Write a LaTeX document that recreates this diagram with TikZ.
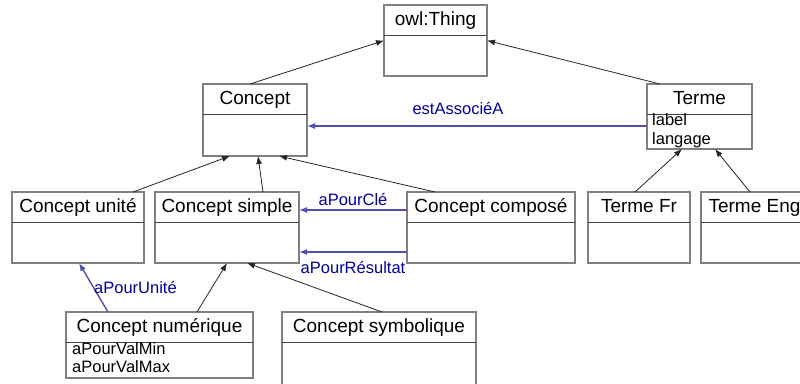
\documentclass[tikz,border=0pt]{standalone}
\usepackage{fontspec}
\setmainfont{Liberation Sans}
\usetikzlibrary{arrows.meta}
\definecolor{boxgray}{RGB}{128,128,128}
\definecolor{relblue}{RGB}{80,80,176}
\definecolor{labelblue}{RGB}{0,0,160}

\begin{document}
\begin{tikzpicture}[x=1pt,y=-1pt,
    classbox/.style={draw=boxgray,line width=1.3pt,anchor=north west,inner sep=0pt,outer sep=0pt},
    divider/.style={draw=black!75,line width=0.8pt},
    classname/.style={font=\fontsize{19}{22}\selectfont,inner sep=0pt,anchor=base},
    attr/.style={font=\fontsize{16.5}{19}\selectfont,inner sep=0pt,anchor=base west},
    isa/.style={draw=black!85,line width=0.8pt,-{Latex[length=8pt,width=6pt]}},
    rel/.style={draw=relblue,line width=1.4pt,-{Latex[length=8pt,width=6pt]}},
    rellabel/.style={font=\fontsize{16.5}{19}\selectfont,text=labelblue,inner sep=0pt}]

    % Cadre de l'image
    \clip (0,0) rectangle (800,383);
    \fill[white] (0,0) rectangle (800,383);

    % Classes : nom/x/y/largeur/hauteur/titre
    \foreach \nom/\px/\py/\larg/\haut/\titre in {
        thing/384/5/103/71/owl:Thing,
        concept/203/84/104/72/Concept,
        terme/647/84/105/65/Terme,
        unite/12/192/132/71/Concept unité,
        simple/155/192/144/71/Concept simple,
        compose/407/192/168/71/Concept composé,
        termefr/588/192/102/71/Terme Fr,
        termeeng/701/192/107/71/Terme Eng,
        numerique/66/312/187/66/Concept numérique,
        symbolique/282/312/194/80/Concept symbolique}
    {
        \node[classbox,minimum width=\larg pt,minimum height=\haut pt] (\nom) at (\px,\py) {};
        \draw[divider] ([yshift=-30pt]\nom.north west) -- ([yshift=-30pt]\nom.north east);
        \node[classname] at ([yshift=-20.5pt]\nom.north) {\titre};
    }

    % Attributs
    \node[attr] at ([xshift=5pt,yshift=-41pt]terme.north west) {label};
    \node[attr] at ([xshift=5pt,yshift=-60pt]terme.north west) {langage};
    \node[attr] at ([xshift=6pt,yshift=-42pt]numerique.north west) {aPourValMin};
    \node[attr] at ([xshift=6pt,yshift=-60pt]numerique.north west) {aPourValMax};

    % Heritage
    \draw[isa] ([xshift=-5pt]concept.north) -- (thing.west);
    \draw[isa] ([xshift=13pt]terme.north west) -- (thing.east);
    \draw[isa] ([xshift=-11pt]unite.north east) -- ([xshift=-25pt]concept.south);
    \draw[isa] ([xshift=36pt]simple.north) -- ([xshift=3pt]concept.south);
    \draw[isa] ([xshift=28pt]compose.north west) -- ([xshift=24pt]concept.south);
    \draw[isa] ([xshift=-4pt]termefr.north) -- ([xshift=-17.5pt]terme.south);
    \draw[isa] ([xshift=49pt]termeeng.north west) -- ([xshift=15.5pt]terme.south);
    \draw[isa] ([xshift=-56pt]numerique.north east) -- (simple.south);
    \draw[isa] ([xshift=3pt]symbolique.north) -- ([xshift=20pt]simple.south);

    % Relations
    \draw[rel] ([yshift=-42pt]terme.north west) -- ([yshift=-42pt]terme.north west -| concept.east)
        node[rellabel,pos=0.556,above=11pt] {estAssociéA};
    \draw[rel] ([yshift=-18pt]compose.north west) -- ([yshift=-18pt]compose.north west -| simple.east)
        node[rellabel,midway,above=4pt] {aPourClé};
    \draw[rel] ([yshift=-60pt]compose.north west) -- ([yshift=-60pt]compose.north west -| simple.east)
        node[rellabel,midway,below=9pt] {aPourRésultat};
    \draw[rel] ([xshift=42pt]numerique.north west) -- ([xshift=1pt]unite.south)
        node[rellabel,midway,anchor=west] {aPourUnité};
\end{tikzpicture}
\end{document}
